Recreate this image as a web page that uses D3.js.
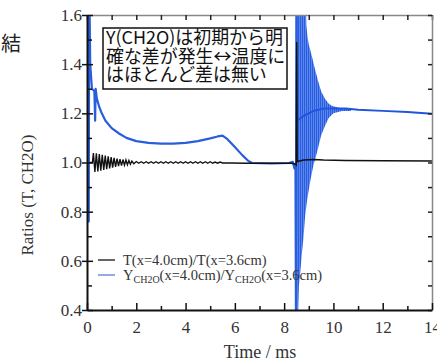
<!DOCTYPE html>
<html>
<head>
<meta charset="utf-8">
<script src="https://cdnjs.cloudflare.com/ajax/libs/d3/7.8.5/d3.min.js"></script>
<style>
  body { margin: 0; background: #fff; }
  svg { display: block; }
  .serif { font-family: "Liberation Serif", "Times New Roman", serif; }
  .jp { font-family: "Noto Sans CJK JP", sans-serif; }
</style>
</head>
<body>
<div id="chart"></div>
<script>
// tick labels
var xTicks = [0, 2, 4, 6, 8, 10, 12, 14];
var yTicks = [0.4, 0.6, 0.8, 1.0, 1.2, 1.4, 1.6];

// text
var noteLines = ["Y(CH2O)は初期から明", "確な差が発生↔温度に", "はほとんど差は無い"];
var legendSeries = ["T", "CH2O"];

// T(x=4.0cm)/T(x=3.6cm)  [time ms, ratio]
var tempRatio = [
  [0.10, 1.0], [0.22, 1.0], [0.26, 1.038], [0.32, 0.962], [0.38, 1.037], [0.44, 0.964],
  [0.50, 1.034], [0.56, 0.967], [0.62, 1.031], [0.68, 0.970], [0.74, 1.028], [0.80, 0.973],
  [0.86, 1.025], [0.92, 0.976], [0.98, 1.022], [1.04, 0.979], [1.10, 1.019], [1.16, 0.982],
  [1.22, 1.016], [1.28, 0.985], [1.34, 1.014], [1.40, 0.987], [1.46, 1.012], [1.52, 0.989],
  [1.58, 1.010], [1.64, 0.991], [1.70, 1.008], [1.76, 0.993], [1.82, 1.006], [1.90, 0.995],
  [2.0, 1.004], [2.1, 0.997], [2.2, 1.003], [2.3, 0.997], [2.4, 1.003], [2.5, 0.997],
  [2.6, 1.003], [2.7, 0.997], [2.8, 1.003], [2.9, 0.997], [3.0, 1.003], [3.1, 0.997],
  [3.2, 1.003], [3.3, 0.997], [3.4, 1.003], [3.5, 0.997], [3.6, 1.003], [3.7, 0.997],
  [3.8, 1.003], [3.9, 0.997], [4.0, 1.003], [4.1, 0.997], [4.2, 1.003], [4.3, 0.997],
  [4.4, 1.003], [4.5, 0.997], [4.6, 1.003], [4.7, 0.997], [4.8, 1.003], [4.9, 0.997],
  [5.0, 1.003], [5.1, 0.997], [5.2, 1.002], [5.3, 0.997], [5.4, 1.002], [5.5, 0.998],
  [5.8, 0.998], [6.5, 0.997], [7.5, 0.997], [8.3, 0.997], [8.45, 0.994],
  [8.49, 0.99], [8.51, 1.49], [8.53, 1.004], [8.8, 1.01], [9.2, 1.012], [9.6, 1.01],
  [10.5, 1.008], [12, 1.007], [14, 1.006]
];

// YCH2O(x=4.0cm)/YCH2O(x=3.6cm) before the oscillation
var ch2oRatio = [
  [0.06, 1.0], [0.07, 0.76], [0.09, 1.75], [0.13, 1.40], [0.20, 1.30], [0.30, 1.29],
  [0.33, 1.17], [0.35, 1.30], [0.40, 1.26], [0.50, 1.225], [0.60, 1.20], [0.75, 1.17],
  [1.0, 1.14], [1.3, 1.118], [1.6, 1.10], [2.0, 1.087], [2.5, 1.08], [3.0, 1.077],
  [3.5, 1.077], [4.0, 1.08], [4.5, 1.087], [5.0, 1.098], [5.3, 1.106], [5.5, 1.109],
  [5.7, 1.095], [6.0, 1.063], [6.3, 1.03], [6.55, 1.006], [6.7, 0.998], [7.5, 0.996],
  [8.2, 0.998], [8.35, 1.003], [8.42, 0.976], [8.46, 0.99], [8.48, 0.36], [8.50, 1.75],
  [8.52, 1.17]
];

// oscillation band after ignition: upper / lower envelope and centre
var ch2oUpper = [
  [8.47, 1.75], [8.86, 1.75], [8.90, 1.56], [8.95, 1.51], [9.0, 1.48], [9.13, 1.43],
  [9.25, 1.38], [9.37, 1.335], [9.5, 1.29], [9.65, 1.26], [9.8, 1.24], [9.95, 1.23],
  [10.35, 1.22], [10.7, 1.217]
];
var ch2oLower = [
  [8.47, 0.35], [8.56, 0.36], [8.60, 0.50], [8.66, 0.56], [8.72, 0.63], [8.78, 0.69],
  [8.85, 0.78], [8.93, 0.845], [9.05, 0.92], [9.19, 0.99], [9.33, 1.04], [9.5, 1.11],
  [9.66, 1.15], [9.8, 1.18], [10.0, 1.20], [10.35, 1.21], [10.7, 1.215]
];
var ch2oCenter = [
  [8.52, 1.17], [8.8, 1.19], [9.2, 1.21], [9.6, 1.22], [10.5, 1.22], [11, 1.215],
  [12, 1.21], [13, 1.205], [14, 1.198]
];

var svg = d3.select("#chart").append("svg")
  .attr("width", 437)
  .attr("height", 361);

var x = d3.scaleLinear().domain([0, 14]).range([87, 432]);
var y = d3.scaleLinear().domain([0.4, 1.6]).range([310, 15]);

var defs = svg.append("defs");
defs.append("clipPath").attr("id", "plot")
  .append("rect").attr("x", 87).attr("y", 15).attr("width", 345).attr("height", 295);

// striped fill for the dense oscillation
var pat = defs.append("pattern").attr("id", "stripes")
  .attr("patternUnits", "userSpaceOnUse").attr("width", 2).attr("height", 4);
pat.append("rect").attr("width", 2).attr("height", 4).attr("fill", "#5a87ee");
pat.append("rect").attr("width", 1).attr("height", 4).attr("fill", "#2a5ce0");

// "結" fragment from the slide
svg.append("text")
  .attr("class", "jp")
  .attr("x", 1).attr("y", 51)
  .style("font-size", "20px")
  .attr("fill", "#222")
  .text("結");

var plot = svg.append("g").attr("clip-path", "url(#plot)");

var line = d3.line().x(function(d) { return x(d[0]); }).y(function(d) { return y(d[1]); });

// each envelope is filled towards the centre level
var envArea = d3.area()
  .x(function(d) { return x(d[0]); })
  .y0(y(1.21))
  .y1(function(d) { return y(d[1]); });

plot.append("path").datum(ch2oUpper)
  .attr("d", envArea).attr("fill", "url(#stripes)");
plot.append("path").datum(ch2oLower)
  .attr("d", envArea).attr("fill", "url(#stripes)");

plot.append("path").datum(ch2oCenter)
  .attr("d", line).attr("fill", "none")
  .attr("stroke", "#1f55dc").attr("stroke-width", 2);

plot.append("path").datum(ch2oRatio)
  .attr("d", line).attr("fill", "none")
  .attr("stroke", "#285ddc").attr("stroke-width", 2.2)
  .attr("stroke-linejoin", "round");

plot.append("path").datum(tempRatio)
  .attr("d", line).attr("fill", "none")
  .attr("stroke", "#111").attr("stroke-width", 1.4);

// axes
var gTop = svg.append("g").attr("transform", "translate(0,15)")
  .call(d3.axisTop(x).tickValues(d3.range(0, 15, 1)).tickSizeInner(-5).tickSizeOuter(0).tickFormat(""));
gTop.select(".domain").attr("stroke", "#888").attr("stroke-width", 1.5);
gTop.selectAll(".tick line").attr("stroke", "#222").attr("stroke-width", 1.5);

var gRight = svg.append("g").attr("transform", "translate(432,0)")
  .call(d3.axisRight(y).tickValues(d3.range(0.4, 1.65, 0.1)).tickSizeInner(-4).tickSizeOuter(0).tickFormat(""));
gRight.select(".domain").attr("stroke", "#888").attr("stroke-width", 1.5);
gRight.selectAll(".tick line").attr("stroke", "#222").attr("stroke-width", 1.5);

// minor ticks
svg.append("g").attr("transform", "translate(87,0)")
  .call(d3.axisLeft(y).tickValues(d3.range(0.5, 1.6, 0.2)).tickSizeInner(-5).tickSizeOuter(0).tickFormat(""))
  .call(function(g) { g.select(".domain").remove(); })
  .selectAll(".tick line").attr("stroke", "#111").attr("stroke-width", 1.5);
svg.append("g").attr("transform", "translate(0,310)")
  .call(d3.axisBottom(x).tickValues(d3.range(1, 14, 2)).tickSizeInner(-4).tickSizeOuter(0).tickFormat(""))
  .call(function(g) { g.select(".domain").remove(); })
  .selectAll(".tick line").attr("stroke", "#111").attr("stroke-width", 1.5);

var gLeft = svg.append("g").attr("transform", "translate(87,0)")
  .call(d3.axisLeft(y).tickValues(yTicks).tickSizeInner(5).tickSizeOuter(0).tickPadding(0)
    .tickFormat(d3.format(".1f")));
gLeft.attr("font-family", null).attr("font-size", null);
gLeft.select(".domain").attr("stroke", "#111").attr("stroke-width", 2);
gLeft.selectAll(".tick line").attr("x1", 6).attr("stroke", "#111").attr("stroke-width", 1.5);
gLeft.selectAll("text").attr("class", "serif").style("font-size", "17px").attr("fill", "#333");

var gBottom = svg.append("g").attr("transform", "translate(0,310)")
  .call(d3.axisBottom(x).tickValues(xTicks).tickSizeInner(-7).tickSizeOuter(0).tickPadding(11));
gBottom.attr("font-family", null).attr("font-size", null);
gBottom.select(".domain").attr("stroke", "#111").attr("stroke-width", 2);
gBottom.selectAll(".tick line").attr("stroke", "#111").attr("stroke-width", 1.5);
gBottom.selectAll("text").attr("class", "serif").style("font-size", "17px").attr("fill", "#333");

// axis titles
svg.append("text")
  .attr("class", "serif")
  .attr("x", 260).attr("y", 358)
  .attr("text-anchor", "middle")
  .style("font-size", "18px").attr("fill", "#333")
  .text("Time / ms");

svg.append("text")
  .attr("class", "serif")
  .attr("transform", "translate(33,195) rotate(-90)")
  .attr("text-anchor", "middle")
  .style("font-size", "17px").attr("fill", "#333")
  .text("Ratios (T, CH2O)");

// annotation box
var note = svg.append("g");
note.append("rect")
  .attr("x", 103).attr("y", 28).attr("width", 184).attr("height", 61)
  .attr("fill", "#fff").attr("stroke", "#111").attr("stroke-width", 1.5);
note.selectAll("text").data(noteLines).enter().append("text")
  .attr("class", "jp")
  .attr("x", 106)
  .attr("y", function(d, i) { return 44 + i * 18.5; })
  .style("font-size", "16.5px")
  .attr("fill", "#111")
  .text(function(d) { return d; });
// fit the longest line to the box like the slide
var w0 = note.select("text").node().getComputedTextLength();
if (w0 > 0) {
  note.selectAll("text").style("font-size", (16.5 * 177 / w0).toFixed(2) + "px");
}

// legend
var legend = svg.append("g").attr("class", "serif").style("font-size", "14.5px").attr("fill", "#333");
legend.append("line").attr("x1", 98).attr("x2", 115).attr("y1", 260).attr("y2", 260)
  .attr("stroke", "#333").attr("stroke-width", 1.5);
legend.append("line").attr("x1", 98).attr("x2", 115).attr("y1", 275).attr("y2", 275)
  .attr("stroke", "#6f8fdc").attr("stroke-width", 1.5);

legend.append("text").attr("x", 123).attr("y", 265)
  .text(legendSeries[0] + "(x=4.0cm)/" + legendSeries[0] + "(x=3.6cm)");

var t2 = legend.append("text").attr("x", 123).attr("y", 280);
t2.append("tspan").text("Y");
t2.append("tspan").style("font-size", "10px").attr("dy", 3).text(legendSeries[1]);
t2.append("tspan").attr("dy", -3).text("(x=4.0cm)/Y");
t2.append("tspan").style("font-size", "10px").attr("dy", 3).text(legendSeries[1]);
t2.append("tspan").attr("dy", -3).text("(x=3.6cm)");
</script>
</body>
</html>
